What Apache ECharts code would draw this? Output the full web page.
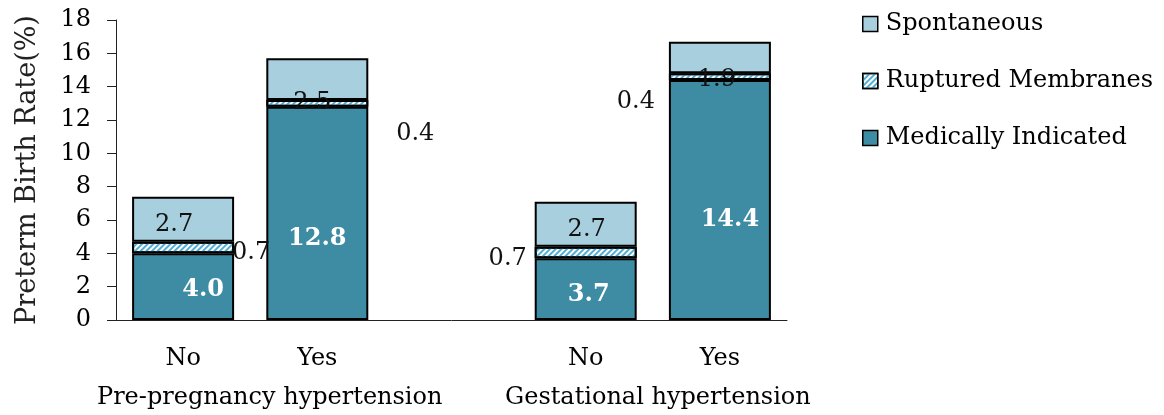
<!DOCTYPE html>
<html><head><meta charset="utf-8">
<script src="https://cdn.jsdelivr.net/npm/echarts@6/dist/echarts.min.js"></script>
<style>html,body{margin:0;padding:0;background:#fff}#c{width:1164px;height:415px}</style>
</head><body><div id="c"></div>
<script>
// ---- data ----
const categories = ['No', 'Yes', '', 'No', 'Yes'];
const groupLabels = ['Pre-pregnancy hypertension', 'Gestational hypertension'];
const seriesNames = ['Spontaneous', 'Ruptured Membranes', 'Medically Indicated'];
const medically = [4.0, 12.8, null, 3.7, 14.4];
const ruptured = [0.7, 0.4, null, 0.7, 0.4];
const spontaneous = [2.7, 2.5, null, 2.7, 1.9];
const yMin = 0, yMax = 18, yInterval = 2;

// ---- label layout (pixel offsets from segment centre) ----
const medOffsets = [[20, 3], [0, 25], null, [3, 6], [10, 20]];
const rupOffsets = [[68, 5], [98, 30], null, [-78, 6], [-84, 25]];
const spoOffsets = [[-9, 6], [-5, 24], null, [1, 6], [-3, 22]];

const FONT = 'DejaVu Serif';
function items(vals, offs) {
  return vals.map((v, i) => v == null ? null : { value: v, label: { offset: offs[i] } });
}

const chart = echarts.init(document.getElementById('c'), null, { renderer: 'canvas' });
const border = { borderColor: '#000', borderWidth: 2 };
chart.setOption({
  animation: false,
  backgroundColor: '#fff',
  grid: { left: 116, right: 377, top: 20, bottom: 95 },
  legend: {
    orient: 'vertical', left: 857, top: 5, icon: 'rect',
    itemWidth: 15, itemHeight: 15, itemGap: 29,
    data: seriesNames,
    textStyle: { fontFamily: FONT, fontSize: 24, color: '#000', lineHeight: 28, padding: [0, 0, 0, 3] },
    itemStyle: { borderColor: '#000', borderWidth: 1.5 }
  },
  xAxis: {
    type: 'category', data: categories,
    axisLine: { lineStyle: { color: '#222', width: 1 } },
    axisTick: { length: 8, lineStyle: { color: '#222' } },
    axisLabel: { fontFamily: FONT, fontSize: 24, color: '#000', margin: 27 }
  },
  yAxis: {
    type: 'value', min: yMin, max: yMax, interval: yInterval,
    name: 'Preterm Birth Rate(%)', nameLocation: 'middle', nameGap: 75,
    nameTextStyle: { fontFamily: FONT, fontSize: 27, color: '#222' },
    splitLine: { show: false },
    axisLine: { show: true, lineStyle: { color: '#222', width: 1 } },
    axisTick: { show: true, length: 9, lineStyle: { color: '#222' } },
    axisLabel: { fontFamily: FONT, fontSize: 24, color: '#000', margin: 25 }
  },
  series: [
    {
      name: 'Medically Indicated', type: 'bar', stack: 'a', barCategoryGap: '24%',
      data: items(medically, medOffsets),
      itemStyle: Object.assign({ color: '#3d8ca4' }, border),
      label: { show: true, position: 'inside', fontFamily: FONT, fontSize: 24, fontWeight: 'bold', color: '#fff', formatter: p => p.value.toFixed(1) }
    },
    {
      name: 'Ruptured Membranes', type: 'bar', stack: 'a',
      data: items(ruptured, rupOffsets),
      itemStyle: Object.assign({
        color: '#ffffff',
        decal: { symbol: 'rect', symbolSize: 1, color: '#52aed3', dashArrayX: [1, 0], dashArrayY: [2, 2], rotation: -Math.PI / 4 }
      }, border),
      label: { show: true, position: 'inside', fontFamily: FONT, fontSize: 24, color: '#111', formatter: p => p.value.toFixed(1) }
    },
    {
      name: 'Spontaneous', type: 'bar', stack: 'a',
      data: items(spontaneous, spoOffsets),
      itemStyle: Object.assign({ color: '#a8cfdd' }, border),
      label: { show: true, position: 'inside', fontFamily: FONT, fontSize: 24, color: '#111', formatter: p => p.value.toFixed(1) }
    }
  ],
  graphic: [
    { type: 'text', left: 97, top: 386, style: { text: groupLabels[0], font: '24px "' + FONT + '"', fill: '#000' } },
    { type: 'text', left: 505, top: 386, style: { text: groupLabels[1], font: '24px "' + FONT + '"', fill: '#000' } }
  ]
});
</script></body></html>
